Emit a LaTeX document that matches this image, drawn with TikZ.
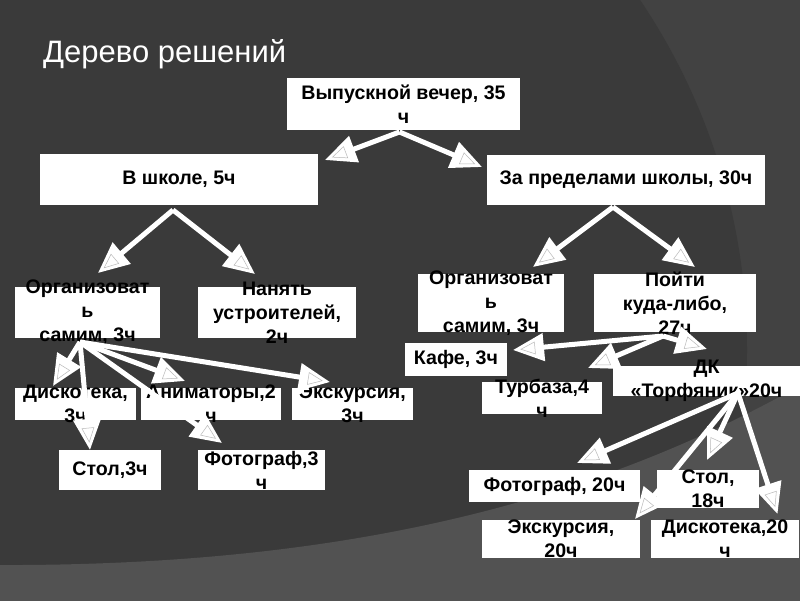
\documentclass[tikz,border=0pt]{standalone}
\usepackage{fontspec}
\setmainfont{Liberation Sans}
\usetikzlibrary{arrows.meta,decorations.markings}
\definecolor{bgdark}{HTML}{3A3A3A}
\definecolor{bgmid}{HTML}{424242}
\definecolor{bglight}{HTML}{525252}
\tikzset{
  box/.style={fill=white, draw=none, inner sep=0pt, outer sep=0pt},
  boxtext/.style={align=center, inner sep=0pt, text=black, font=\bfseries\fontsize{19.6}{24}\selectfont},
  branch/.style={white, line width=5pt, -{Triangle[length=31pt, width=27pt, fill=white]},
    postaction={decorate, decoration={markings, mark=at position 1 with
      {\draw[gray!55, line width=0.5pt, -] (-8pt,0pt) -- (-22pt,6pt) -- (-22pt,-6pt) -- cycle;}}}},
}

\begin{document}
\begin{tikzpicture}[x=1pt,y=-1pt]
\useasboundingbox (0,0) rectangle (800,600);
% background
\fill[bgmid] (-10,-10) rectangle (810,610);
\fill[bgdark] (121,350) circle[radius=626];
\fill[bglight] (-10,565) .. controls (350,567) and (600,500) .. (810,380) -- (810,610) -- (-10,610) -- cycle;
\node[anchor=base west, text=white, inner sep=0pt, font=\fontsize{31}{36}\selectfont] (title) at (43,62) {Дерево решений};
% level 1-2
\node[box, minimum width=233pt, minimum height=52pt, label={[boxtext]center:{Выпускной вечер, 35\\ч}}] (root) at (403.5,104) {};
\node[box, minimum width=278pt, minimum height=51pt, label={[boxtext]center:{В школе, 5ч}}] (school) at (179,179.5) {};
\node[box, minimum width=278pt, minimum height=50pt, label={[boxtext]center:{За пределами школы, 30ч}}] (outside) at (626,180) {};
% level 3
\node[box, minimum width=145pt, minimum height=51pt, label={[boxtext]center:{Организоват\\ь\\самим, 3ч}}] (orgself) at (87.5,312.5) {};
\node[box, minimum width=158pt, minimum height=51pt, label={[boxtext]center:{Нанять\\устроителей,\\2ч}}] (hire) at (277,312.5) {};
\node[box, minimum width=146pt, minimum height=58pt, label={[boxtext]center:{Организоват\\ь\\самим, 3ч}}] (orgself2) at (491,303) {};
\node[box, minimum width=162pt, minimum height=58pt, label={[boxtext]center:{Пойти\\куда-либо,\\27ч}}] (goout) at (675,303) {};
% level 4 left
\node[box, minimum width=121pt, minimum height=32pt, label={[boxtext]center:{Дискотека,\\3ч}}] (disco) at (75.5,404) {};
\node[box, minimum width=140pt, minimum height=32pt, label={[boxtext]center:{Аниматоры,2\\ч}}] (anim) at (211,404) {};
\node[box, minimum width=121pt, minimum height=32pt, label={[boxtext]center:{Экскурсия,\\3ч}}] (tour) at (352.5,404) {};
\node[box, minimum width=102pt, minimum height=40pt, label={[boxtext]center:{Стол,3ч}}] (tableA) at (110,470) {};
\node[box, minimum width=127pt, minimum height=40pt, label={[boxtext]center:{Фотограф,3\\ч}}] (photoA) at (261.5,470) {};
% level 4 right
\node[box, minimum width=102pt, minimum height=33pt, label={[boxtext]center:{Кафе, 3ч}}] (cafe) at (456,359.5) {};
\node[box, minimum width=120pt, minimum height=32pt, label={[boxtext]center:{Турбаза,4\\ч}}] (camp) at (542,398) {};
\node[box, minimum width=187pt, minimum height=30pt, label={[boxtext]center:{ДК\\«Торфяник»20ч}}] (dk) at (706.5,381) {};
\node[box, minimum width=171pt, minimum height=32pt, label={[boxtext]center:{Фотограф, 20ч}}] (photoB) at (554.5,486) {};
\node[box, minimum width=102pt, minimum height=38pt, label={[boxtext]center:{Стол,\\18ч}}] (tableB) at (708,489) {};
\node[box, minimum width=158pt, minimum height=38pt, label={[boxtext]center:{Экскурсия,\\20ч}}] (tourB) at (561,539) {};
\node[box, minimum width=148pt, minimum height=38pt, label={[boxtext]center:{Дискотека,20\\ч}}] (discoB) at (725,539) {};
% arrows
\draw[branch] ([shift={(-4,2)}]root.south) -- ([shift={(7,6)}]school.north east);
\draw[branch] ([shift={(-4,2)}]root.south) -- ([shift={(-5,12)}]outside.north west);
\draw[branch] ([shift={(-6,5)}]school.south) -- ([shift={(10.5,-14)}]orgself.north);
\draw[branch] ([shift={(-6,5)}]school.south) -- ([shift={(-22,-13)}]hire.north);
\draw[branch] ([shift={(-13,2)}]outside.south) -- ([shift={(42,-7)}]orgself2.north);
\draw[branch] ([shift={(-13,2)}]outside.south) -- ([shift={(20,-7)}]goout.north);
\draw[branch] ([shift={(-7.5,4)}]orgself.south) -- ([shift={(-22.5,-2)}]disco.north);
\draw[branch] ([shift={(-7.5,4)}]orgself.south) -- ([shift={(-20,0)}]tableA.north);
\draw[branch] ([shift={(-7.5,4)}]orgself.south) -- ([shift={(-26,-7)}]anim.north);
\draw[branch] ([shift={(-7.5,4)}]orgself.south) -- ([shift={(-39.5,-7)}]photoA.north);
\draw[branch] ([shift={(-7.5,4)}]orgself.south) -- ([shift={(-22.5,-6)}]tour.north);
\draw[branch] ([shift={(-12,4)}]goout.south) -- ([shift={(6,-9.5)}]cafe.east);
\draw[branch] ([shift={(-12,4)}]goout.south) -- ([shift={(46,-14)}]camp.north);
\draw[branch] ([shift={(-12,4)}]goout.south) -- ([shift={(0.5,-17)}]dk.north);
\draw[branch] ([shift={(31.5,-3)}]dk.south) -- ([shift={(22.5,-7)}]photoB.north);
\draw[branch] ([shift={(31.5,-3)}]dk.south) -- ([shift={(-1,-10)}]tableB.north);
\draw[branch] ([shift={(31.5,-3)}]dk.south) -- ([shift={(-5,-1)}]tourB.north east);
\draw[branch] ([shift={(31.5,-3)}]dk.south) -- ([shift={(52.5,-6)}]discoB.north);
\end{tikzpicture}
\end{document}
